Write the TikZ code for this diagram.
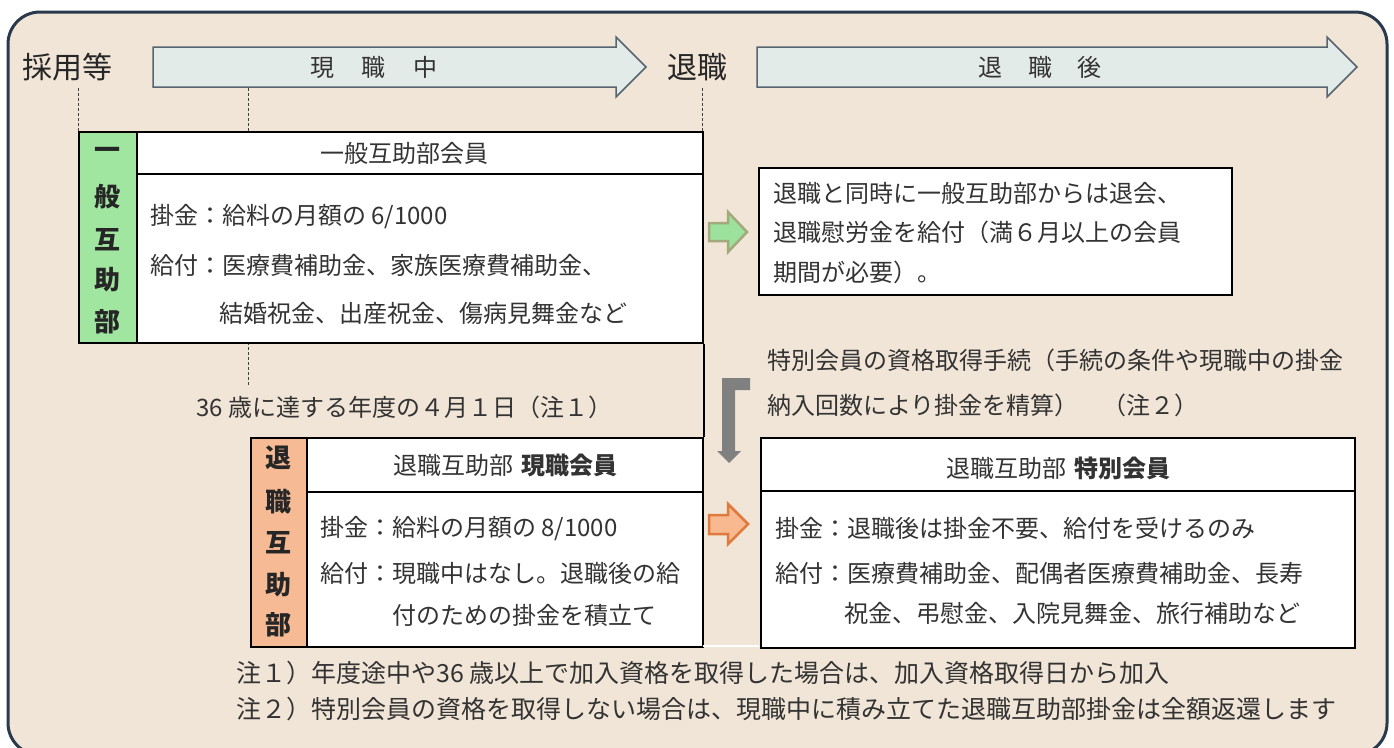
\documentclass[tikz,border=0pt]{standalone}
\usepackage{fontspec}
\setmainfont{Noto Sans CJK JP}
\definecolor{bgc}{HTML}{F1E5D7}
\definecolor{framec}{HTML}{283A4C}
\definecolor{arrfill}{HTML}{E3EBE9}
\definecolor{arrdraw}{HTML}{56656F}
\definecolor{txtc}{HTML}{333333}
\definecolor{greenc}{HTML}{A0E6A0}
\definecolor{salmonc}{HTML}{F6BA94}
\definecolor{garrfill}{HTML}{9CE29C}
\definecolor{garrdraw}{HTML}{A3A97D}
\definecolor{oarrfill}{HTML}{F8B890}
\definecolor{oarrdraw}{HTML}{E07A3C}
\definecolor{grayarr}{HTML}{808080}
\tikzset{
  frame/.style={draw=framec,line width=3pt,fill=bgc,rounded corners=32pt},
  tlarrow/.style={draw=arrdraw,line width=1.5pt,fill=arrfill},
  boxrect/.style={draw=black,line width=2pt,fill=white,inner sep=0pt,anchor=north west},
  lblrect/.style={draw=black,line width=2pt,inner sep=0pt,anchor=north west},
  boxline/.style={draw=black,line width=2pt},
  dline/.style={draw=black!75,line width=0.8pt,dash pattern=on 3pt off 2pt},
  txt/.style={font=\fontsize{24}{24}\selectfont,text=txtc,inner sep=0pt,anchor=west},
  notetxt/.style={font=\fontsize{25}{25}\selectfont,text=txtc,inner sep=0pt,anchor=west},
  ctxt/.style={font=\fontsize{24}{24}\selectfont,text=txtc,inner sep=0pt},
  bigtxt/.style={font=\fontsize{30}{30}\selectfont,text=black!85,inner sep=0pt},
  lblch/.style={font=\fontsize{26}{26}\selectfont\bfseries,text=black!85,inner sep=0pt},
}
\begin{document}
\begin{tikzpicture}[x=1pt,y=-1pt]
\useasboundingbox (0,0) rectangle (1394,747);
\fill[white] (0,0) rectangle (1394,747);
\begin{scope}
\clip (0,0) rectangle (1394,747);
\draw[frame] (8,12) rectangle (1387,755);
\end{scope}

% timeline arrows
\draw[tlarrow] (153,47) -- (616,47) -- (616,37) -- (646,67) -- (616,97) -- (616,87) -- (153,87) -- cycle;
\draw[tlarrow] (757,47) -- (1327,47) -- (1327,37) -- (1357,67) -- (1327,97) -- (1327,87) -- (757,87) -- cycle;
\node[ctxt] (t1) at (374,67) {現\hskip 28pt 職\hskip 28pt 中};
\node[ctxt] (t2) at (1040,67) {退\hskip 26pt 職\hskip 26pt 後};
\node[bigtxt] (saiyo) at (67,67) {採用等};
\node[bigtxt] (taishoku) at (697,67) {退職};

% dashed guides
\draw[dline] (78,88) -- (78,131);
\draw[dline] (248,88) -- (248,131);
\draw[dline] (702,88) -- (702,131);
\draw[dline] (248,342) -- (248,385);

% box 1: general mutual aid
\node[boxrect,minimum width=624pt,minimum height=211pt] (g) at (78,131) {};
\node[lblrect,fill=greenc,minimum width=58pt,minimum height=211pt] (gl) at (78,131) {};
\draw[boxline] (136,174) -- (702,174);
\node[ctxt] (gh) at (404,153) {一般互助部会員};
\node[lblch] at (107,153) {一};
\node[lblch] at (107,197) {般};
\node[lblch] at (107,240) {互};
\node[lblch] at (107,280) {助};
\node[lblch] at (107,322) {部};
\node[txt] (g1) at (150,217) {掛金：給料の月額の 6/1000};
\node[txt] (g2) at (150,265) {給付：医療費補助金、家族医療費補助金、};
\node[txt] (g3) at (219,313) {結婚祝金、出産祝金、傷病見舞金など};

% box 3: retirement mutual aid (active)
\node[boxrect,minimum width=452pt,minimum height=209pt] (r) at (250,437) {};
\node[lblrect,fill=salmonc,minimum width=56pt,minimum height=209pt] (rl) at (250,437) {};
\draw[boxline] (306,492) -- (702,492);
\draw[boxline] (g.south east) -- (r.north east);
\node[ctxt] (rh) at (505,465) {退職互助部\hskip 8pt{\bfseries 現職会員}};
\node[lblch] at (278,458) {退};
\node[lblch] at (278,502) {職};
\node[lblch] at (278,543) {互};
\node[lblch] at (278,585) {助};
\node[lblch] at (278,625) {部};
\node[txt] (r1) at (320,529) {掛金：給料の月額の 8/1000};
\node[txt] (r2) at (320,573) {給付：現職中はなし。退職後の給};
\node[txt] (r3) at (392,615) {付のための掛金を積立て};

\node[txt] (age) at (196,407) {36 歳に達する年度の４月１日（注１）};

% box 2: retirement text
\node[boxrect,minimum width=473pt,minimum height=127pt] (q) at (758,167) {};
\node[txt] (q1) at (773,193) {退職と同時に一般互助部からは退会、};
\node[txt] (q2) at (773,232) {退職慰労金を給付（満６月以上の会員};
\node[txt] (q3) at (773,272) {期間が必要）。};

% special membership text
\node[txt] (s1) at (767,360) {特別会員の資格取得手続（手続の条件や現職中の掛金};
\node[txt] (s2) at (767,405) {納入回数により掛金を精算）\hskip 24pt（注２）};

% box 4: special member
\node[boxrect,minimum width=594pt,minimum height=210pt] (sp) at (760,437) {};
\draw[boxline] (760,491) -- (1354,491);
\node[ctxt] (sph) at (1058,468) {退職互助部\hskip 8pt{\bfseries 特別会員}};
\node[txt] (sp1) at (775,528) {掛金：退職後は掛金不要、給付を受けるのみ};
\node[txt] (sp2) at (775,573) {給付：医療費補助金、配偶者医療費補助金、長寿};
\node[txt] (sp3) at (844,613) {祝金、弔慰金、入院見舞金、旅行補助など};

\draw[white,line width=2pt] (703,646) -- (759,646);

% block arrows
\draw[draw=garrdraw,fill=garrfill,line width=2.5pt,line join=miter]
  (709,223) -- (728,223) -- (728,212) -- (747,232) -- (728,252) -- (728,241) -- (709,241) -- cycle;
\draw[draw=oarrdraw,fill=oarrfill,line width=2.5pt,line join=miter]
  (709,515) -- (728,515) -- (728,504) -- (748,524) -- (728,544) -- (728,534) -- (709,534) -- cycle;
\fill[grayarr] (722,378) -- (750,378) -- (750,390) -- (735,390) -- (735,451) -- (741,451) -- (729,463) -- (717,451) -- (722,451) -- cycle;

% notes
\node[notetxt] (n1) at (236,673) {注１）年度途中や36 歳以上で加入資格を取得した場合は、加入資格取得日から加入};
\node[notetxt] (n2) at (236,709) {注２）特別会員の資格を取得しない場合は、現職中に積み立てた退職互助部掛金は全額返還します};
\end{tikzpicture}
\end{document}
